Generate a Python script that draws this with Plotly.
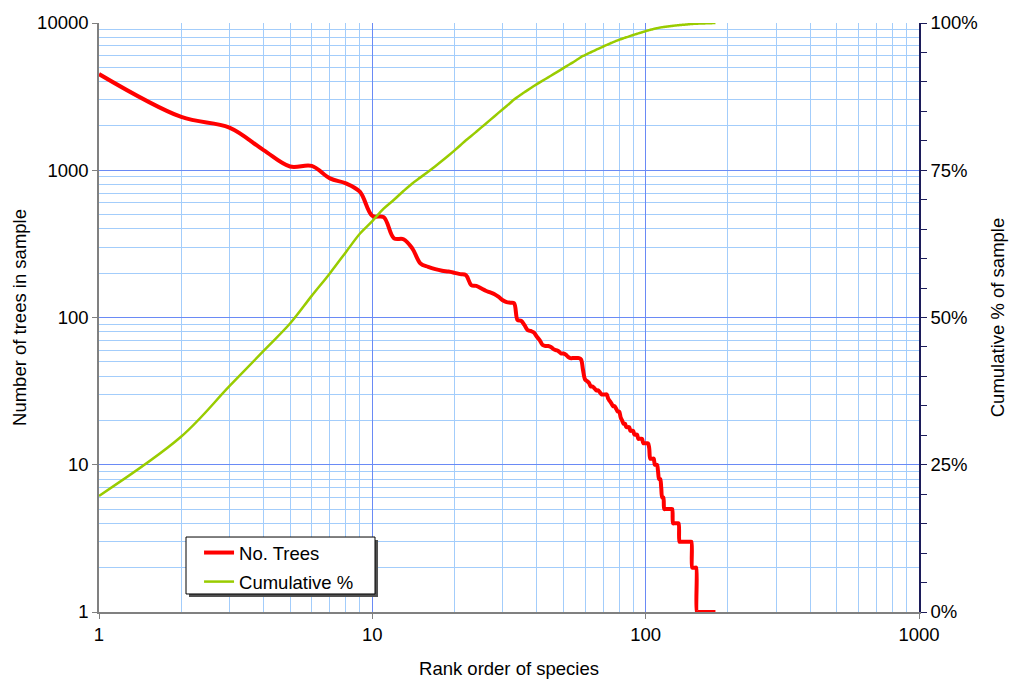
import numpy as np
import plotly.graph_objects as go

# Species rank (1 = most abundant) and number of trees recorded for each
ranks = list(range(1, 181))
counts = [
    4500, 2300, 1950, 1370, 1060, 1070, 880, 815, 715, 490,
    480, 345, 340, 295, 233, 221, 213, 208, 205, 201,
    197, 194, 166, 164, 158, 152, 148, 144, 138, 131,
    127, 126, 125, 96, 95, 89, 82, 81, 79, 74,
    70, 65, 64, 64, 63, 61, 60, 59, 57, 57,
    56, 54, 53, 53, 53, 53, 53, 52, 44, 38,
    37, 36, 34, 34, 33, 32, 32, 31, 30, 30,
    30, 30, 28, 27, 26, 25, 25, 24, 23, 23,
    21, 20, 19, 19, 18, 18, 18, 17, 17, 17,
    16, 16, 16, 15, 15, 15, 15, 14, 14, 14,
    14, 14, 13, 11, 11, 11, 11, 10, 10, 10,
    9, 8, 8, 7, 6, 6, 5, 5, 5, 5,
    5, 5, 5, 5, 5, 4, 4, 4, 4, 4,
    4, 4, 3, 3, 3, 3, 3, 3, 3, 3,
    3, 3, 3, 3, 3, 3, 3, 2, 2, 2,
    2, 2, 2, 1, 1, 1, 1, 1, 1, 1,
    1, 1, 1, 1, 1, 1, 1, 1, 1, 1,
    1, 1, 1, 1, 1, 1, 1, 1, 1, 1,
]

# Running share of the whole sample covered by the top-n species
cum_share = np.cumsum(counts) / np.sum(counts)

x_tickvals = [1, 10, 100, 1000]
x_ticktext = ["1", "10", "100", "1000"]
y_tickvals = [1, 10, 100, 1000, 10000]
y_ticktext = ["1", "10", "100", "1000", "10000"]
pct_tickvals = [0, 0.25, 0.5, 0.75, 1.0]
pct_ticktext = ["0%", "25%", "50%", "75%", "100%"]

FONT = "Liberation Sans, Arial, sans-serif"
FS = 18.5
MAJOR_GRID = "#6a8af5"
MINOR_GRID = "#a3cdfb"
AXIS_GREY = "#808080"
NAVY = "#1c1c5a"

fig = go.Figure()
fig.add_trace(go.Scatter(
    x=ranks, y=counts, name="No. Trees", mode="lines", legendgroup="trees",
    line=dict(color="#ff0000", width=4, shape="spline", smoothing=1),
    cliponaxis=False,
))
fig.add_trace(go.Scatter(
    x=ranks, y=cum_share, name="Cumulative %", mode="lines", yaxis="y2",
    legendgroup="cumulative",
    line=dict(color="#99cc00", width=2.5, shape="spline", smoothing=1),
    cliponaxis=False,
))

# Legend frame with a drop shadow (paper coordinates)
frame = dict(x0=0.1061, x1=0.3366, y0=0.0306, y1=0.1273)
shadow_dx, shadow_dy = 3 / 820, 3 / 589
fig.add_shape(type="rect", xref="paper", yref="paper", layer="above",
              x0=frame["x0"] + shadow_dx, x1=frame["x1"] + shadow_dx,
              y0=frame["y0"] - shadow_dy, y1=frame["y1"] - shadow_dy,
              fillcolor="#505050", line=dict(width=0))
fig.add_shape(type="rect", xref="paper", yref="paper", layer="above",
              x0=frame["x0"], x1=frame["x1"], y0=frame["y0"], y1=frame["y1"],
              fillcolor="white", line=dict(color="black", width=1))

fig.update_layout(
    width=1010, height=679,
    margin=dict(l=99, r=91, t=23, b=67, autoexpand=False),
    paper_bgcolor="white", plot_bgcolor="white",
    font=dict(family=FONT, size=FS, color="black"),
    showlegend=True,
    legend=dict(
        x=0.122, y=0.1324, xanchor="left", yanchor="top",
        bgcolor="rgba(0,0,0,0)", borderwidth=0,
        font=dict(family=FONT, size=FS, color="black"),
        tracegroupgap=2, itemwidth=30,
    ),
    xaxis=dict(
        type="log", range=[0, 3], automargin=False,
        tickmode="array", tickvals=x_tickvals, ticktext=x_ticktext,
        ticks="outside", ticklen=5, tickcolor=AXIS_GREY,
        showline=True, linecolor=AXIS_GREY, linewidth=1.5,
        showgrid=True, gridcolor=MAJOR_GRID, gridwidth=1,
        minor=dict(dtick="D1", showgrid=True, gridcolor=MINOR_GRID, gridwidth=1, ticks=""),
        zeroline=False,
        tickfont=dict(size=FS),
        title=dict(text="Rank order of species", font=dict(size=FS), standoff=19),
    ),
    yaxis=dict(
        type="log", range=[0, 4], automargin=False,
        tickmode="array", tickvals=y_tickvals, ticktext=y_ticktext,
        ticks="outside", ticklen=5, tickcolor=AXIS_GREY,
        showline=True, linecolor=AXIS_GREY, linewidth=1.5,
        showgrid=True, gridcolor=MAJOR_GRID, gridwidth=1,
        minor=dict(dtick="D1", showgrid=True, gridcolor=MINOR_GRID, gridwidth=1, ticks=""),
        zeroline=False,
        tickfont=dict(size=FS),
        title=dict(text="Number of trees in sample", font=dict(size=FS), standoff=6),
    ),
    yaxis2=dict(
        overlaying="y", side="right", range=[0, 1], automargin=False,
        tickmode="array", tickvals=pct_tickvals, ticktext=pct_ticktext,
        ticks="outside", ticklen=6, tickcolor=NAVY,
        minor=dict(dtick=0.05, ticks="outside", ticklen=6, tickcolor=NAVY, showgrid=False),
        showline=True, linecolor=NAVY, linewidth=1.5,
        showgrid=False, zeroline=False,
        tickfont=dict(size=FS),
        title=dict(text="Cumulative % of sample", font=dict(size=FS), standoff=14),
    ),
)

fig.write_html("out.html")
